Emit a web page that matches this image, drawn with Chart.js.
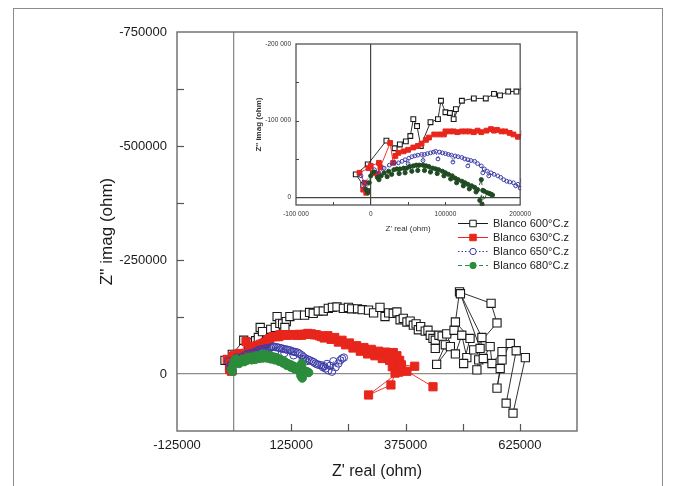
<!DOCTYPE html>
<html><head><meta charset="utf-8">
<script src="https://cdn.jsdelivr.net/npm/chart.js@4.4.0/dist/chart.umd.min.js"></script>
<style>
html,body{margin:0;padding:0;background:#fff;}
#wrap{position:relative;width:675px;height:486px;overflow:hidden;}
#main{position:absolute;left:0;top:0;}
#inset{position:absolute;left:236px;top:34px;}
</style></head><body>
<div id="wrap">
<canvas id="main" width="675" height="486"></canvas>
<canvas id="inset" width="300" height="206"></canvas>
</div>
<script>
// ---------------- DATA ----------------
const seriesNames = ['Blanco 600°C.z', 'Blanco 630°C.z', 'Blanco 650°C.z', 'Blanco 680°C.z'];

const re600 = [-5000,-10000,-20000,-4000,21000,32000,39000,47000,53000,57000,62000,67000,80000,90000,94000,100000,106000,114000,111000,122000,138000,154000,165000,173000,184000,195000,
  206000,215000,225000,239000,250000,257000,270000,280000,294000,305000,319000,330000,338000,348000,356000,363000,370000,378000,385000,392000,398000,403000,408000,418000,424000,429000,435000,440000,448000,440000,455000,465000,
  481000,462000,443000,473000,484000,498000,509000,502000,516000,484000,493000,562000,575000,524000,538000,495000,542000,535000,531000,545000,560000,564000,586000,582000,575000,586000,604000,617000,595000,610000,637000];
const im600 = [-8000,-16000,-30000,-43000,-74000,-64000,-69000,-73000,-80000,-102000,-93000,-67000,-98000,-102000,-126000,-111000,-110000,-115000,-102000,-126000,-129000,-129000,-135000,-133000,-138000,-138000,
  -144000,-146000,-147000,-144000,-146000,-143000,-143000,-141000,-140000,-134000,-146000,-126000,-134000,-133000,-136000,-119000,-122000,-114000,-116000,-107000,-110000,-97000,-104000,-94000,-96000,-85000,-78000,-74000,-85000,-56000,-83000,-88000,
  -96000,-64000,-21000,-60000,-44000,-85000,-36000,-23000,-78000,-114000,-180000,-155000,-112000,-53000,-56000,-176000,-80000,-31000,-9000,-34000,-60000,-23000,-49000,-12000,31000,-31000,-67000,-51000,64000,86000,-36000];

const re630 = [-6000,-10000,-8000,-15000,-3000,5000,0,11000,13000,9000,26000,30000,33000,37000,44000,50000,57000,63000,68000,74000,78000,85000,92000,98000,100000,106000,111000,116000,122000,127000,132000,138000,143000,148000,155000,161000,165000,169000,175000,180000,186000,191000,197000,
  205000,212000,220000,228000,236000,244000,252000,260000,268000,276000,284000,292000,300000,308000,316000,324000,332000,340000,348000,356000,352000,362000,358000,346000,366000,395000,360000,294000,343000,352000,378000,435000];
const im630 = [-6000,-10000,-19000,-32000,-38000,-32000,-41000,-45000,-39000,-30000,-71000,-45000,-54000,-58000,-60000,-62000,-65000,-67000,-70000,-75000,-78000,-82000,-82000,-82000,-86000,-86000,-86000,-85000,-86000,-86000,-86000,-85000,-87000,-85000,-87000,-89000,-87000,-88000,-86000,-86000,-84000,-82000,-79000,
  -84000,-76000,-80000,-70000,-74000,-64000,-68000,-57000,-62000,-50000,-58000,-44000,-54000,-40000,-50000,-34000,-48000,-30000,-47000,-40000,-24000,-30000,-12000,-16000,-20000,-17000,-4000,46000,24000,-2000,-6000,28000];

const re650 = [-8000,-13000,-8000,5000,11000,18000,25000,31000,37000,42000,46000,50000,51000,55000,59000,63000,68000,70000,72000,76000,80000,84000,87000,90000,92000,96000,100000,104000,108000,110000,113000,117000,122000,126000,130000,130000,134000,139000,143000,148000,150000,152000,156000,158000,161000,165000,170000,174000,178000,182000,186000,191000,194000,197000,200000,203000,206000,210000,214000,217000,222000,228000,232000,236000,240000];
const im650 = [-12000,-28000,-19000,-36000,-32000,-38000,-42000,-45000,-45000,-47000,-49000,-44000,-51000,-53000,-54000,-55000,-56000,-48000,-56000,-57000,-58000,-59000,-60000,-50000,-59000,-58000,-57000,-56000,-55000,-46000,-54000,-53000,-52000,-50000,-49000,-41000,-48000,-47000,-44000,-41000,-32000,-37000,-34000,-28000,-32000,-30000,-28000,-26000,-23000,-21000,-20000,-19000,-15000,-17000,-12000,-22000,-8000,-18000,-5000,-28000,-15000,-23000,-30000,-34000,-36000];

const re680 = [-4000,-6000,-2000,0,4000,9000,11000,14000,18000,22000,24000,28000,31000,35000,38000,39000,44000,46000,48000,52000,55000,57000,61000,63000,65000,70000,72000,74000,78000,80000,83000,87000,89000,91000,96000,98000,100000,104000,107000,109000,113000,115000,117000,122000,124000,126000,130000,132000,135000,139000,141000,143000,148000,150000,146000,152000,149000,156000,159000,161000,163000];
const im680 = [-6000,-10000,-19000,-28000,-33000,-26000,-23000,-28000,-32000,-27000,-34000,-30000,-36000,-37000,-31000,-37000,-38000,-32000,-38000,-40000,-34000,-41000,-42000,-35000,-42000,-42000,-35000,-41000,-40000,-33000,-38000,-37000,-31000,-36000,-34000,-28000,-32000,-30000,-24000,-28000,-25000,-19000,-23000,-21000,-15000,-19000,-17000,-11000,-15000,-13000,-7000,-10000,-23000,-9000,4000,-8000,9000,-6000,-5000,-4000,-3000];

// tick labels
const mainXTickLabels = [-125000, 125000, 375000, 625000];
const mainYTickLabels = [-750000, -500000, -250000, 0];
const mainXMarks = [125000, 250000, 375000, 500000, 625000];
const mainYMarks = [-625000, -500000, -375000, -250000, -125000];
const insetXTickValues = [-100000, 0, 100000, 200000];
const insetXTickText = ['-100 000', '0', '100000', '200000'];
const insetYTickValues = [-200000, -100000, 0];
const insetYTickText = ['-200 000', '-100 000', '0'];
const insetXMarks = [-50000, 50000, 100000, 150000];
const insetYMarks = [-150000, -100000, -50000];

// ---------------- STYLE ----------------
const FONT = "'Liberation Sans', Arial, Helvetica, sans-serif";
const C600 = '#1a1a1a', C630 = '#e8261c', C650 = '#3b3ba8', C680 = '#2b8c3c', C680i = '#1f4a22';

function pts(re, im){ return re.map((x,i)=>({x:x, y:im[i]})); }

function makeDatasets(big){
  const sq = big ? 5.8 : 3.4, ci = big ? 3.7 : 1.9, ciG = big ? 4.2 : 2.1;
  return [
    {label:seriesNames[0], data:pts(re600,im600), showLine:true, borderColor:C600, borderWidth:0.9,
     pointStyle:'rect', pointRadius:sq, pointBackgroundColor:'#ffffff', pointBorderColor:C600, pointBorderWidth:1.1, order:4, clip:big?5:1},
    {label:seriesNames[1], data:pts(re630,im630), showLine:true, borderColor:C630, borderWidth:0.9,
     pointStyle:'rect', pointRadius:sq, pointBackgroundColor:C630, pointBorderColor:C630, pointBorderWidth:1, order:3, clip:big?5:1},
    {label:seriesNames[2], data:pts(re650,im650), showLine:true, borderColor:C650, borderWidth:0.9, borderDash:[1.5,2],
     pointStyle:'circle', pointRadius:ci, pointBackgroundColor:'rgba(255,255,255,0)', pointBorderColor:C650, pointBorderWidth:1, order:2, clip:big?5:1},
    {label:seriesNames[3], data:pts(re680,im680), showLine:true, borderColor:big?C680:C680i, borderWidth:0.9, borderDash:[4,3],
     pointStyle:'circle', pointRadius:ciG, pointBackgroundColor:big?C680:C680i, pointBorderColor:big?C680:C680i, pointBorderWidth:1, order:1, clip:big?5:1}
  ];
}

function drawMarker(ctx, style, x, y, r, fill, stroke){
  ctx.beginPath();
  if(style==='rect'){ const s=r*Math.SQRT1_2; ctx.rect(x-s,y-s,2*s,2*s); }
  else { ctx.arc(x,y,r,0,Math.PI*2); }
  if(fill){ ctx.fillStyle=fill; ctx.fill(); }
  ctx.lineWidth=1; ctx.strokeStyle=stroke; ctx.stroke();
}

const mainDecor = {
  id:'mainDecor',
  beforeDraw(chart){
    const ctx=chart.ctx; ctx.save(); ctx.fillStyle='#fff'; ctx.fillRect(0,0,chart.width,chart.height); ctx.restore();
  },
  afterDraw(chart){
    const ctx=chart.ctx, a=chart.chartArea, xs=chart.scales.x, ys=chart.scales.y;
    ctx.save();
    ctx.strokeStyle='#8c8c8c'; ctx.lineWidth=1;
    ctx.strokeRect(13.5,8.5,649,520);
    ctx.strokeStyle='#6a6a6a'; ctx.lineWidth=1.4;
    ctx.strokeRect(a.left,a.top,a.right-a.left,a.bottom-a.top);
    ctx.lineWidth=1.2; ctx.strokeStyle='#555';
    mainXMarks.forEach(v=>{ const x=Math.round(xs.getPixelForValue(v))+0.5; ctx.beginPath(); ctx.moveTo(x,a.bottom); ctx.lineTo(x,a.bottom-7); ctx.stroke(); });
    mainYMarks.forEach(v=>{ const y=Math.round(ys.getPixelForValue(v))+0.5; ctx.beginPath(); ctx.moveTo(a.left,y); ctx.lineTo(a.left+7,y); ctx.stroke(); });
    const lx0=458, lx1=488, mx=473, tx=493, ly0=223.5, step=14;
    chart.data.datasets.forEach((ds,i)=>{
      const y=ly0+i*step;
      ctx.setLineDash(ds.borderDash||[]); ctx.strokeStyle=ds.borderColor; ctx.lineWidth=1;
      ctx.beginPath(); ctx.moveTo(lx0,y); ctx.lineTo(lx1,y); ctx.stroke();
      ctx.setLineDash([]);
      const bg = ds.pointBackgroundColor==='rgba(255,255,255,0)' ? '#fff' : ds.pointBackgroundColor;
      drawMarker(ctx, ds.pointStyle, mx, y, ds.pointStyle==='rect'?4.6:3.2, bg, ds.pointBorderColor);
      ctx.fillStyle='#222'; ctx.font='11px '+FONT; ctx.textBaseline='middle'; ctx.textAlign='left';
      ctx.fillText(ds.label, tx, y);
    });
    ctx.restore();
  }
};

const insetDecor = {
  id:'insetDecor',
  afterDraw(chart){
    const ctx=chart.ctx, a=chart.chartArea, xs=chart.scales.x, ys=chart.scales.y;
    ctx.save();
    ctx.strokeStyle='#444'; ctx.lineWidth=1.2;
    ctx.strokeRect(a.left,a.top,a.right-a.left,a.bottom-a.top);
    ctx.lineWidth=1; ctx.strokeStyle='#444';
    insetXMarks.forEach(v=>{ const x=Math.round(xs.getPixelForValue(v))+0.5; ctx.beginPath(); ctx.moveTo(x,a.bottom); ctx.lineTo(x,a.bottom-3); ctx.stroke(); });
    insetYMarks.forEach(v=>{ const y=Math.round(ys.getPixelForValue(v))+0.5; ctx.beginPath(); ctx.moveTo(a.left,y); ctx.lineTo(a.left+3,y); ctx.stroke(); });
    ctx.restore();
  }
};

const zeroColor = (col) => (c) => (c.tick && c.tick.value===0) ? col : 'rgba(0,0,0,0)';
const setTicks = (vals) => (s) => { s.ticks = vals.map(v=>({value:v})); };

new Chart(document.getElementById('main'), {
  type:'scatter',
  data:{datasets:makeDatasets(true)},
  options:{
    responsive:false, animation:false, events:[],
    layout:{padding:{left:97, top:32, right:98, bottom:0}},
    plugins:{legend:{display:false}, tooltip:{enabled:false}},
    scales:{
      x:{type:'linear', position:'bottom', min:-125000, max:750000,
        afterBuildTicks:setTicks([-125000, 0, 125000, 375000, 625000]),
        ticks:{autoSkip:false, maxRotation:0, padding:7, color:'#1a1a1a', font:{family:FONT, size:13},
          callback:(v)=> mainXTickLabels.includes(v) ? String(v) : ''},
        grid:{drawTicks:false, color:zeroColor('#8c8c8c'), lineWidth:1.3},
        border:{display:false},
        title:{display:true, text:"Z' real (ohm)", color:'#1a1a1a', font:{family:FONT, size:16}, padding:{top:0, bottom:5}},
        afterFit:(s)=>{ s.height=55; }
      },
      y:{type:'linear', position:'left', reverse:true, min:-750000, max:125000,
        afterBuildTicks:setTicks(mainYTickLabels),
        ticks:{autoSkip:false, padding:10, color:'#1a1a1a', font:{family:FONT, size:13},
          callback:(v)=> mainYTickLabels.includes(v) ? String(v) : ''},
        grid:{drawTicks:false, color:zeroColor('#8c8c8c'), lineWidth:1.3},
        border:{display:false},
        title:{display:true, text:"Z'' imag (ohm)", color:'#1a1a1a', font:{family:FONT, size:17}, padding:{top:0, bottom:0}},
        afterFit:(s)=>{ s.width=80; }
      }
    }
  },
  plugins:[mainDecor]
});

new Chart(document.getElementById('inset'), {
  type:'scatter',
  data:{datasets:makeDatasets(false)},
  options:{
    responsive:false, animation:false, events:[],
    layout:{padding:{left:18, top:10, right:9, bottom:0}},
    plugins:{legend:{display:false}, tooltip:{enabled:false}},
    scales:{
      x:{type:'linear', position:'bottom', min:-100000, max:200000,
        afterBuildTicks:setTicks(insetXTickValues),
        ticks:{autoSkip:false, maxRotation:0, padding:5, color:'#333', font:{family:FONT, size:6.5},
          callback:(v)=>{ const i=insetXTickValues.indexOf(v); return i>=0 ? insetXTickText[i] : ''; }},
        grid:{drawTicks:false, color:zeroColor('#444'), lineWidth:1.2},
        border:{display:false},
        title:{display:true, text:"Z' real (ohm)", color:'#333', font:{family:FONT, size:8}, padding:{top:0, bottom:6}},
        afterFit:(s)=>{ s.height=35; }
      },
      y:{type:'linear', position:'left', reverse:true, min:-200000, max:10000,
        afterBuildTicks:setTicks(insetYTickValues),
        ticks:{autoSkip:false, padding:5, color:'#333', font:{family:FONT, size:6.5},
          callback:(v)=>{ const i=insetYTickValues.indexOf(v); return i>=0 ? insetYTickText[i] : ''; }},
        grid:{drawTicks:false, color:zeroColor('#444'), lineWidth:1.2},
        border:{display:false},
        title:{display:true, text:"Z'' imag (ohm)", color:'#333', font:{family:FONT, size:8, weight:'bold'}, padding:{top:0, bottom:0}},
        afterFit:(s)=>{ s.width=42; }
      }
    }
  },
  plugins:[insetDecor]
});
</script>
</body></html>
